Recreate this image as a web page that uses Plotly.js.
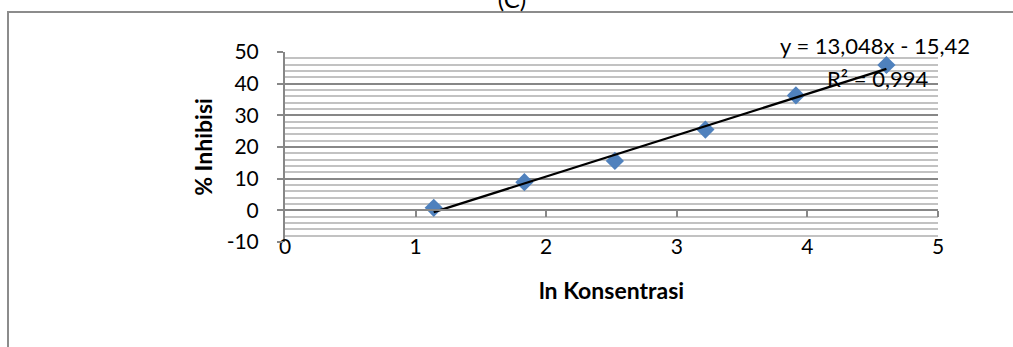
<!DOCTYPE html>
<html>
<head>
<meta charset="utf-8">
<script src="https://cdn.plot.ly/plotly-3.0.1.min.js"></script>
<style>html,body{margin:0;padding:0;background:#fff;}#chart{width:1013px;height:347px;}</style>
</head>
<body>
<div id="chart"></div>
<script>
// ln(concentration) values
var lnKonsentrasi = [1.139, 1.833, 2.526, 3.219, 3.912, 4.605];
// % inhibition
var inhibisi = [0.8, 8.9, 15.6, 25.5, 36.3, 45.9];
// linear trendline end points (y = 13,048x - 15,42)
var trendX = [1.139, 4.605];
var trendY = [-0.56, 44.67];
var equationText = "y = 13,048x - 15,42";
var r2Text = "R² = 0,994";
var xTitle = "ln Konsentrasi";
var yTitle = "% Inhibisi";
var chartTitle = "(C)";
var yTickVals = [-10, 0, 10, 20, 30, 40, 50];
var xTickVals = [0, 1, 2, 3, 4, 5];

var FONT = "Lato, 'Open Sans', sans-serif";
var GRID = "#878787";
var MINOR = "#c2c2c2";

var traces = [
  {
    x: lnKonsentrasi, y: inhibisi, type: "scatter", mode: "markers",
    xaxis: "x", yaxis: "y",
    marker: {symbol: "diamond", size: 14, color: "#4F81BD"},
    hoverinfo: "x+y", showlegend: false
  },
  {
    x: trendX, y: trendY, type: "scatter", mode: "lines",
    xaxis: "x2", yaxis: "y",
    line: {color: "#000000", width: 2.2},
    hoverinfo: "skip", showlegend: false
  }
];

var layout = {
  width: 1013, height: 347,
  margin: {l: 285, r: 75, t: 52, b: 105},
  paper_bgcolor: "#ffffff", plot_bgcolor: "#ffffff",
  font: {family: FONT, color: "#000000", size: 21},
  title: {text: chartTitle, x: 0.5054, xanchor: "center", y: 1.0, yanchor: "middle",
          font: {family: FONT, size: 24, color: "#000"}},
  showlegend: false,
  xaxis: {
    range: [0, 5], tickvals: xTickVals, ticktext: xTickVals.map(String),
    anchor: "free", position: 0.055,
    showline: false, showgrid: false, zeroline: false, ticks: "",
    tickfont: {family: FONT, size: 21, color: "#000"},
    title: {text: xTitle, font: {family: FONT, size: 23, weight: "bold", color: "#000"}, standoff: 26}
  },
  xaxis2: {
    range: [0, 5], overlaying: "x", matches: "x", anchor: "free", position: 10/60,
    tickvals: [1, 2, 3, 4, 5], showticklabels: false,
    showline: true, linecolor: GRID, linewidth: 2,
    ticks: "outside", ticklen: 6, tickwidth: 2, tickcolor: GRID,
    showgrid: false, zeroline: false
  },
  yaxis: {
    range: [-10, 50], tickvals: yTickVals, ticktext: yTickVals.map(String),
    showline: true, linecolor: GRID, linewidth: 2,
    ticks: "outside", ticklen: 6, tickwidth: 2, tickcolor: GRID,
    showgrid: true, gridcolor: GRID, gridwidth: 2, zeroline: false,
    minor: {dtick: 2, showgrid: true, gridcolor: MINOR, gridwidth: 2, ticks: ""},
    ticklabelstandoff: 14,
    tickfont: {family: FONT, size: 21, color: "#000"},
    title: {text: yTitle, font: {family: FONT, size: 23, weight: "bold", color: "#000"}, standoff: 8}
  },
  annotations: [
    {text: equationText, xref: "paper", yref: "paper", x: 0.9035, y: 1.0316, showarrow: false,
     xanchor: "center", yanchor: "middle", font: {family: FONT, size: 22, color: "#000"}},
    {text: r2Text, xref: "paper", yref: "paper", x: 0.908, y: 0.863, showarrow: false,
     xanchor: "center", yanchor: "middle", font: {family: FONT, size: 22, color: "#000"}}
  ],
  shapes: [
    {type: "rect", xref: "paper", yref: "paper", x0: -0.4242, x1: 1.2, y0: -0.7, y1: 1.2105,
     line: {color: "#8c8c8c", width: 2}, fillcolor: "rgba(0,0,0,0)"}
  ]
};

Plotly.newPlot("chart", traces, layout, {displayModeBar: false, staticPlot: true});
</script>
</body>
</html>
